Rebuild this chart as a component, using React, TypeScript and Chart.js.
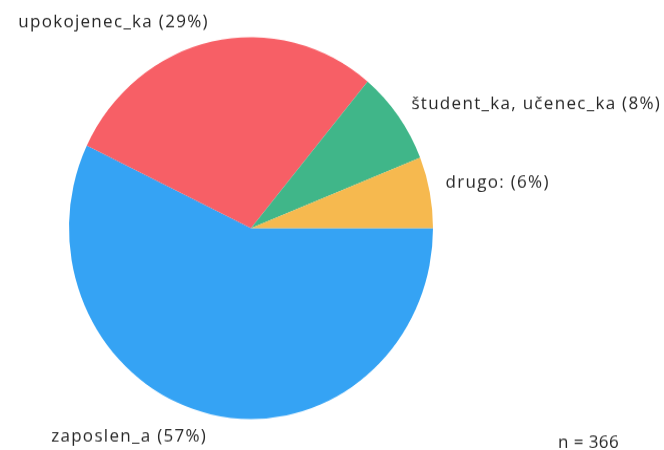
import React, { useEffect, useRef } from "react";
import { Chart, registerables } from "chart.js";

Chart.register(...registerables);

// ---- data ----
const categories = ["zaposlen_a", "upokojenec_ka", "študent_ka, učenec_ka", "drugo:"];
const counts = [209, 106, 29, 22];
const sliceColors = ["#35A3F4", "#F75F66", "#40B689", "#F6B94F"];
const sampleSize = 366;

const total = counts.reduce((a, b) => a + b, 0);
const labelTexts = categories.map(
  (c, i) => `${c} (${Math.round((counts[i] / total) * 100)}%)`
);

const CANVAS_W = 664;
const CANVAS_H = 429;

const outerLabels = {
  id: "outerLabels",
  afterDatasetsDraw(chart: any, _args: any, opts: any) {
    const ctx = chart.ctx as CanvasRenderingContext2D;
    const meta = chart.getDatasetMeta(0);
    ctx.save();
    ctx.font = opts.font;
    (ctx as any).letterSpacing = opts.letterSpacing;
    ctx.fillStyle = opts.color;
    ctx.textBaseline = "middle";
    meta.data.forEach((arc: any, i: number) => {
      const p = arc.getProps(["x", "y", "startAngle", "endAngle", "outerRadius"], true);
      const mid = (p.startAngle + p.endAngle) / 2;
      const r = p.outerRadius + opts.offset;
      const px = p.x + Math.cos(mid) * r;
      const py = p.y + Math.sin(mid) * r + (opts.nudgeY[i] || 0);
      ctx.textAlign = Math.cos(mid) >= 0 ? "left" : "right";
      ctx.fillText(labelTexts[i], px, py);
    });
    (ctx as any).letterSpacing = opts.nLetterSpacing;
    ctx.textAlign = "right";
    ctx.textBaseline = "alphabetic";
    ctx.fillText(`n = ${sampleSize}`, chart.width - opts.nRight, chart.height - opts.nBottom);
    ctx.restore();
  },
};

export default function App() {
  const ref = useRef<HTMLCanvasElement | null>(null);
  useEffect(() => {
    if (!ref.current) return;
    const chart = new Chart(ref.current, {
      type: "pie",
      data: {
        labels: categories,
        datasets: [
          {
            data: counts,
            backgroundColor: sliceColors,
            borderWidth: 0,
          },
        ],
      },
      options: {
        animation: false,
        responsive: false,
        maintainAspectRatio: false,
        devicePixelRatio: 1,
        rotation: 90,
        layout: { padding: { left: 69, right: 231, top: 35.4, bottom: 29.6 } },
        plugins: {
          legend: { display: false },
          tooltip: { enabled: false },
          outerLabels: {
            font: '17px "Open Sans"',
            letterSpacing: "1.3px",
            nLetterSpacing: "0.4px",
            color: "#262626",
            offset: 16,
            nudgeY: [5.4, -3, -2, -6],
            nRight: 45,
            nBottom: 2.4,
          },
        } as any,
      },
      plugins: [outerLabels],
    });
    return () => chart.destroy();
  }, []);
  return (
    <div style={{ position: "fixed", left: 0, top: 0, width: 664, height: 450, background: "#fff" }}>
      <canvas
        ref={ref}
        width={CANVAS_W}
        height={CANVAS_H}
        style={{ width: "664px", height: "450px", display: "block" }}
      />
    </div>
  );
}
